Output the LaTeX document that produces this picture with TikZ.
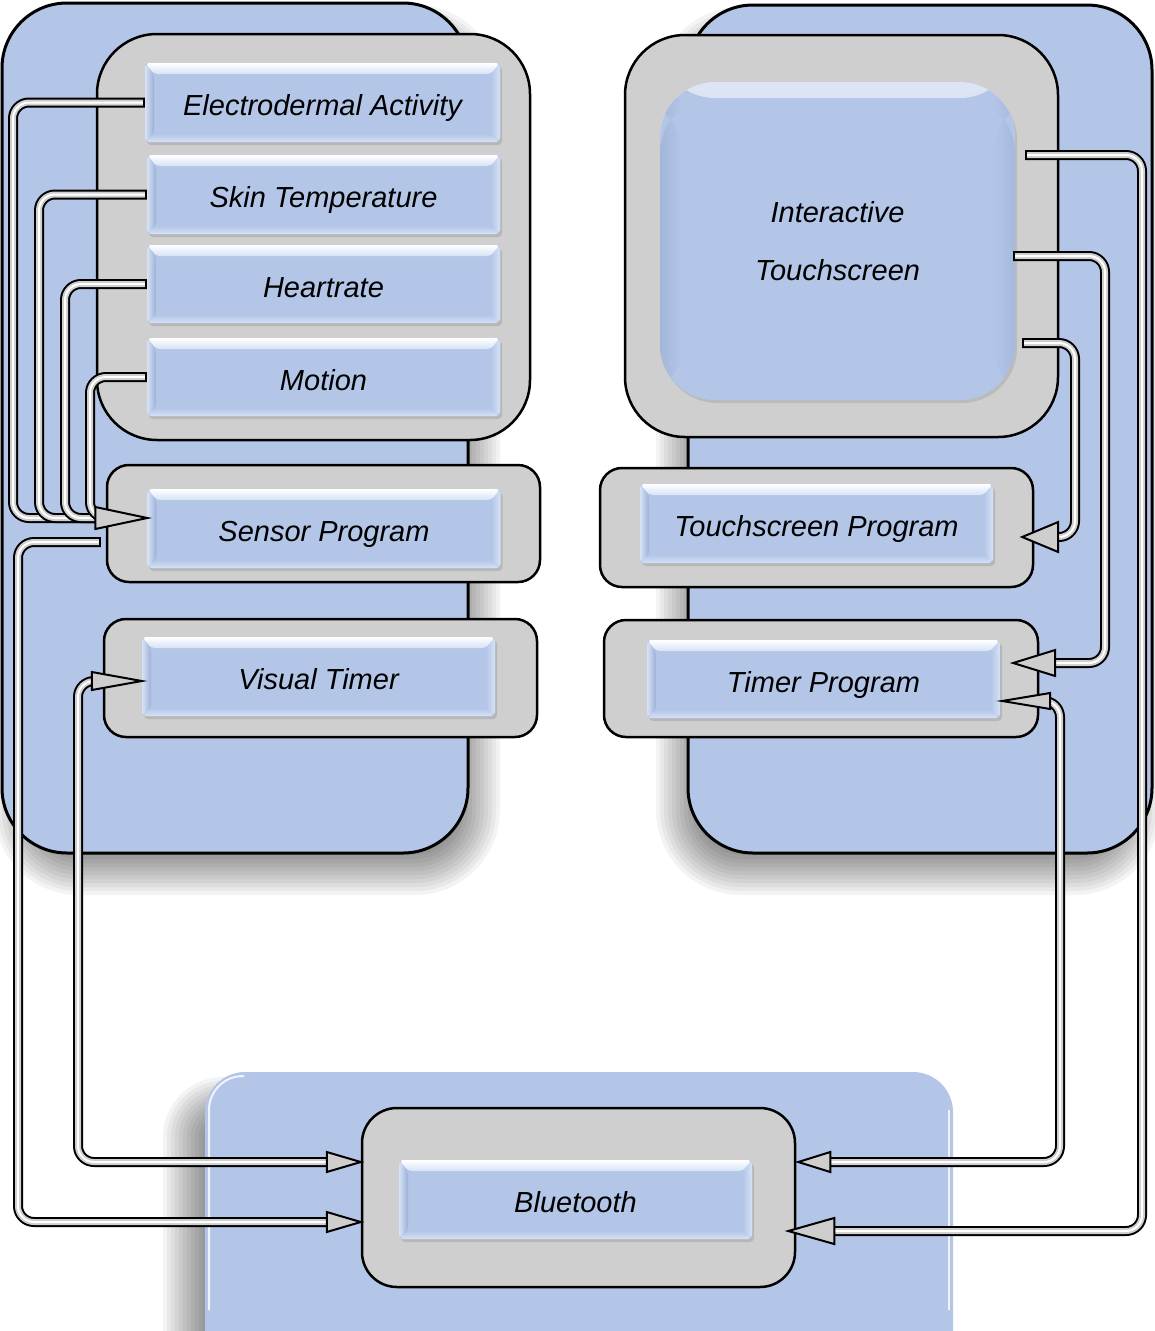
\documentclass[tikz,border=0pt]{standalone}
\usepackage{fontspec}
\setmainfont{Liberation Sans}
\usetikzlibrary{calc,shadows}

\definecolor{panelblue}{RGB}{180,198,231}
\definecolor{boxblue}{RGB}{180,198,231}
\definecolor{boxdark}{RGB}{156,176,213}
\definecolor{boxlight}{RGB}{214,226,246}
\definecolor{framegray}{RGB}{207,207,207}
\definecolor{pipegray}{RGB}{206,206,206}

% bevelled face of the small blue boxes
\newcommand\bevelart{%
  \path (path picture bounding box.north west) coordinate (bv-nw)
        (path picture bounding box.north east) coordinate (bv-ne)
        (path picture bounding box.south west) coordinate (bv-sw)
        (path picture bounding box.south east) coordinate (bv-se);
  \shade[top color=white, bottom color=boxlight]
    (bv-nw) -- (bv-ne) -- ([xshift=-9pt,yshift=-11pt]bv-ne) -- ([xshift=9pt,yshift=-11pt]bv-nw) -- cycle;
  \shade[left color=boxlight, right color=boxdark]
    (bv-nw) -- ([xshift=9pt,yshift=-11pt]bv-nw) -- ([xshift=9pt,yshift=8pt]bv-sw) -- (bv-sw) -- cycle;
  \shade[left color=boxblue, right color=boxlight]
    (bv-ne) -- ([xshift=-9pt,yshift=-11pt]bv-ne) -- ([xshift=-9pt,yshift=8pt]bv-se) -- (bv-se) -- cycle;
  \shade[top color=boxblue, bottom color=boxlight]
    (bv-sw) -- ([xshift=9pt,yshift=8pt]bv-sw) -- ([xshift=-9pt,yshift=8pt]bv-se) -- (bv-se) -- cycle;
}

% soft shadow made of stacked translucent rounded rectangles
\newcommand\softshadow[5]{%
  \foreach \i in {0,...,10}{%
    \pgfmathsetmacro\sho{4*\i-20}%
    \pgfmathsetmacro\shr{#5+\sho}%
    \fill[black, opacity=0.048, rounded corners=\shr pt]
      ({#1-\sho},{#2-\sho}) rectangle ({#3+\sho},{#4+\sho});
  }}

% tube connector: dark rim, grey body, light core
\newcommand\pipe[1]{%
  \draw[pipe-a] #1;
  \draw[pipe-b] #1;
  \draw[pipe-c] #1;}

% arrow heads pointing right / left
\newcommand\aheadR[3]{\filldraw[ahd] (#1) -- ($(#1)+(-#2,#3)$) -- ($(#1)+(-#2,-#3)$) -- cycle;}
\newcommand\aheadL[3]{\filldraw[ahd] (#1) -- ($(#1)+(#2,#3)$) -- ($(#1)+(#2,-#3)$) -- cycle;}

\tikzset{
  panel/.style={draw=black, line width=3pt, fill=panelblue, rounded corners=65pt},
  grpframe/.style={rectangle, draw=black, line width=2.5pt, fill=framegray, inner sep=0pt},
  lbl/.style={font=\fontsize{29}{34}\selectfont\itshape, text=black},
  bevelbox/.style={rectangle, rounded corners=4pt, fill=boxblue, inner sep=0pt, lbl,
    text height=26pt, text depth=0pt,
    minimum width=353pt, minimum height=79pt,
    drop shadow={shadow xshift=2pt, shadow yshift=-3pt, opacity=.3},
    path picture={\bevelart}},
  screenbox/.style={rectangle, rounded corners=55pt, fill=boxblue, inner sep=0pt,
    font=\fontsize{29}{58}\selectfont\itshape, align=center,
    drop shadow={shadow xshift=2pt, shadow yshift=-3pt, opacity=.25},
    path picture={
      \shade[top color=white!55!boxblue, bottom color=boxblue]
        (path picture bounding box.north west) rectangle
        ([yshift=-16pt]path picture bounding box.north east);
      \shade[left color=boxdark!70!boxblue, right color=boxblue]
        ([yshift=-16pt]path picture bounding box.north west) rectangle
        ([xshift=22pt]path picture bounding box.south west);
      \shade[right color=boxdark!60!boxblue, left color=boxblue]
        ([yshift=-16pt]path picture bounding box.north east) rectangle
        ([xshift=-22pt]path picture bounding box.south east);
      \fill[white, opacity=.07] (673,183) rectangle (985,292);}},
  pipe-a/.style={draw=black, line width=10pt, rounded corners=16pt},
  pipe-b/.style={draw=pipegray, line width=6pt, rounded corners=16pt, shorten <=2pt},
  pipe-c/.style={draw=white, line width=2pt, rounded corners=16pt, shorten <=2pt},
  ahd/.style={fill=pipegray, draw=black, line width=2pt, line join=miter},
}

\begin{document}
\begin{tikzpicture}[x=1pt,y=-1pt]
\useasboundingbox (0,0) rectangle (1155,1331);
\begin{scope}
\clip (0,0) rectangle (1155,1331);

% background panels and their shadows
\softshadow{14}{25}{480}{875}{65}
\softshadow{676}{27}{1140}{875}{65}
\softshadow{183}{1097}{931}{1425}{40}
\draw[panel] (2,3) rectangle (468,853);
\draw[panel] (688,5) rectangle (1152,853);
\fill[panelblue, rounded corners=40pt] (205,1072) rectangle (953,1400);
\draw[white, opacity=.8, line width=2pt, rounded corners=34pt] (209,1310) -- (209,1076) -- (244,1076);
\draw[white, opacity=.8, line width=2pt] (949,1110) -- (949,1310);

% grey group frames
\node[grpframe, rounded corners=60pt, minimum width=433pt, minimum height=406pt] (sgrp) at (313.5,237) {};
\node[grpframe, rounded corners=22pt, minimum width=433pt, minimum height=117pt] (spgrp) at (323.5,523.5) {};
\node[grpframe, rounded corners=22pt, minimum width=433pt, minimum height=118pt] (vtgrp) at (320.5,678) {};
\node[grpframe, rounded corners=60pt, minimum width=433pt, minimum height=402pt] (tsgrp) at (841.5,236) {};
\node[grpframe, rounded corners=22pt, minimum width=433pt, minimum height=119pt] (tpgrp) at (816.5,527.5) {};
\node[grpframe, rounded corners=22pt, minimum width=434pt, minimum height=117pt] (tmgrp) at (821,678.5) {};
\node[grpframe, rounded corners=35pt, minimum width=433pt, minimum height=179pt] (btgrp) at (578.5,1197.5) {};

% blue boxes
\node[bevelbox, minimum width=355pt] (eda) at (322.5,102.5) {Electrodermal Activity};
\node[bevelbox] (skin) at (323.5,194.5) {Skin Temperature};
\node[bevelbox, minimum height=78pt] (heart) at (323.5,284) {Heartrate};
\node[bevelbox, minimum height=78pt] (motion) at (323.5,377) {Motion};
\node[bevelbox] (sensor) at (324,528.5) {Sensor Program};
\node[bevelbox] (vtimer) at (318.5,676.5) {Visual Timer};
\node[bevelbox] (tsprog) at (816.5,523.5) {Touchscreen Program};
\node[bevelbox, minimum height=78pt] (tmprog) at (823.5,679) {Timer Program};
\node[bevelbox] (bt) at (575.5,1199.5) {Bluetooth};
\node[screenbox, minimum width=355pt, minimum height=318pt] (ts) at (837.5,241) {Interactive\\Touchscreen};

% connector end points
\coordinate (sp-tip) at ([yshift=10.5pt]sensor.west);
\coordinate (sp-in) at ($(sp-tip)+(-36,0)$);
\coordinate (sp-out) at ([xshift=-5pt,yshift=-18.5pt]spgrp.west);
\coordinate (vt-tip) at ([yshift=-4.5pt]vtimer.west);
\coordinate (vt-in) at ($(vt-tip)+(-32,0)$);
\coordinate (bt-tip1) at ([yshift=35.5pt]btgrp.west);
\coordinate (bt-in1) at ($(bt-tip1)+(-34,0)$);
\coordinate (bt-tip2) at ([yshift=-24.5pt]btgrp.west);
\coordinate (bt-in2) at ($(bt-tip2)+(-34,0)$);
\coordinate (ts-o1) at ([xshift=10pt,yshift=86pt]ts.east);
\coordinate (ts-o2) at ([xshift=-2pt,yshift=-15pt]ts.east);
\coordinate (ts-o3) at ([xshift=7pt,yshift=-102pt]ts.east);
\coordinate (tp-tip) at ([xshift=29pt,yshift=-13.5pt]tsprog.east);
\coordinate (tp-in) at ($(tp-tip)+(30,0)$);
\coordinate (tm-tip1) at ([xshift=13pt,yshift=16pt]tmprog.east);
\coordinate (tm-in1) at ($(tm-tip1)+(42,0)$);
\coordinate (tm-tip2) at ([xshift=2pt,yshift=-22pt]tmprog.east);
\coordinate (tm-in2) at ($(tm-tip2)+(36,0)$);
\coordinate (bt-tip3) at ([xshift=2pt,yshift=35.5pt]btgrp.east);
\coordinate (bt-in3) at ($(bt-tip3)+(32,0)$);
\coordinate (bt-tip4) at ([xshift=-8pt,yshift=-33.5pt]btgrp.east);
\coordinate (bt-in4) at ($(bt-tip4)+(46,0)$);

% sensors into the sensor program
\pipe{(eda.west) -| (13,518) -- (sp-in)}
\pipe{(skin.west) -| (39,518) -- (sp-in)}
\pipe{(heart.west) -| (65,518) -- (sp-in)}
\pipe{(motion.west) -| (90,518) -- (sp-in)}
\aheadR{sp-tip}{52}{11}

% sensor program and visual timer to bluetooth
\pipe{(sp-out) -| (18,1222) -- (bt-in2)}
\aheadR{bt-tip2}{34}{10}
\pipe{(vt-in) -| (78,1162) -- (bt-in1)}
\aheadR{bt-tip1}{34}{10}
\aheadR{vt-tip}{50}{9}

% touchscreen outputs
\pipe{(ts-o1) -| (1142,1231) -- (bt-in4)}
\aheadL{bt-tip4}{46}{13}
\pipe{(ts-o2) -| (1105,663) -- (tm-in1)}
\aheadL{tm-tip1}{42}{13}
\pipe{(ts-o3) -| (1075,537) -- (tp-in)}
\aheadL{tp-tip}{36}{15}

% timer program and bluetooth
\pipe{(tm-in2) -| (1060,1162) -- (bt-in3)}
\aheadL{tm-tip2}{48}{8}
\aheadL{bt-tip3}{32}{10}
\end{scope}
\end{tikzpicture}
\end{document}
